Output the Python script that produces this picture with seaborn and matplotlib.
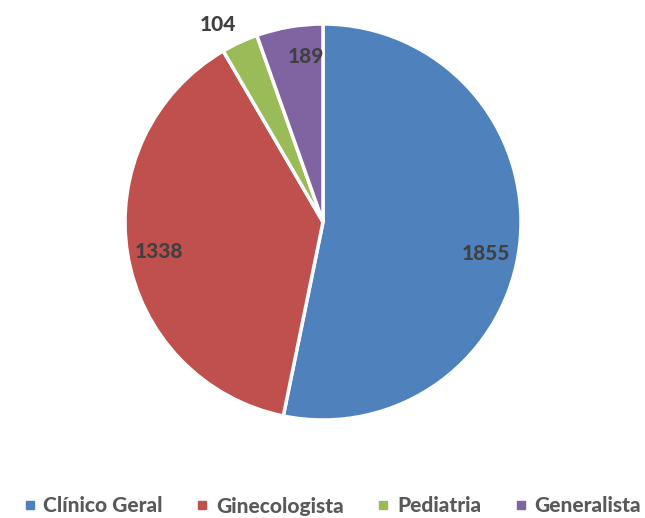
import numpy as np
import matplotlib
matplotlib.use("Agg")
import matplotlib.pyplot as plt
from matplotlib.lines import Line2D
import seaborn as sns

sns.set_style("white")
plt.rcParams["font.family"] = ["Lato", "DejaVu Sans"]

categorias = ["Clínico Geral", "Ginecologista", "Pediatria", "Generalista"]
valores = [1855, 1338, 104, 189]
cores = ["#4F81BD", "#C0504D", "#9BBB59", "#8064A2"]

# posicao dos rotulos (raio, ajuste de angulo em graus)
rot_raio = [0.84, 0.84, 1.13, 0.84]
rot_ajuste = [-5, 1, 3, -4]

fig = plt.figure(figsize=(6.45, 5.18), dpi=100)
ax = fig.add_axes([(323 - 198) / 645, (518 - 420) / 518, 396 / 645, 396 / 518])

wedges, _ = ax.pie(valores, colors=cores, startangle=90, counterclock=False,
                   radius=1, wedgeprops={"edgecolor": "white", "linewidth": 2.5})

for w, v, r, da in zip(wedges, valores, rot_raio, rot_ajuste):
    ang = np.deg2rad((w.theta1 + w.theta2) / 2 + da)
    ax.text(r * np.cos(ang), r * np.sin(ang), str(v), ha="center", va="center",
            fontsize=15, fontweight="black", color="#404040")

ax.set_xlim(-1, 1)
ax.set_ylim(-1, 1)
ax.set_aspect("equal")
ax.axis("off")

handles = [Line2D([0], [0], marker="s", linestyle="", markersize=6,
                  markerfacecolor=c, markeredgecolor=c) for c in cores]
leg = fig.legend(handles, categorias, loc="center", bbox_to_anchor=(0.515, 12 / 518),
                 ncol=4, frameon=False, handletextpad=0.35, columnspacing=1.6,
                 handlelength=0.6, prop={"size": 15, "weight": "black"})
for t in leg.get_texts():
    t.set_color("#595959")

fig.savefig("out.png", dpi=100)
